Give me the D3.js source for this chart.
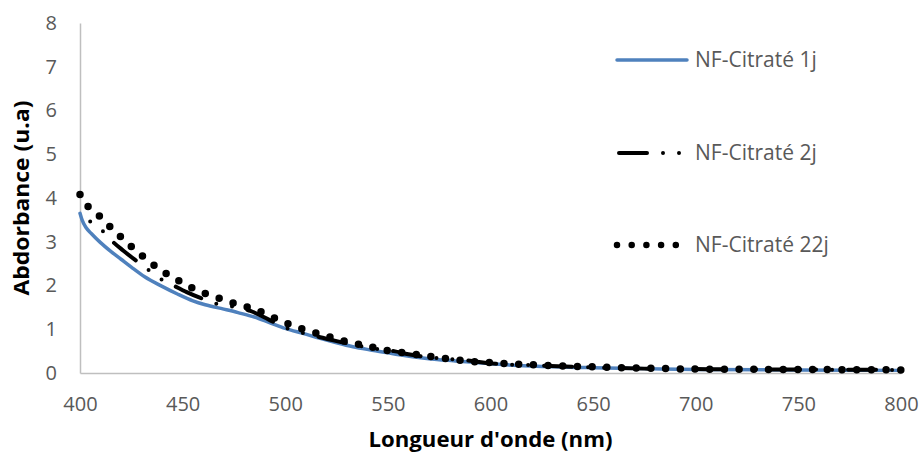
<!DOCTYPE html>
<html>
<head>
<meta charset="utf-8">
<script src="https://cdn.jsdelivr.net/npm/d3@7"></script>
<style>
  html, body { margin: 0; padding: 0; background: #fff; }
  svg { display: block; font-family: "Open Sans", "Liberation Sans", sans-serif; }
</style>
</head>
<body>
<svg id="chart" width="922" height="457"></svg>
<script>
// wavelengths (nm) and absorbance (u.a)
const wl1j = [400, 401, 403, 405.5, 410, 415, 420, 425, 431.5, 440, 447.7, 455, 461, 470, 477, 485, 492, 500,
  509, 517, 525, 533, 541, 550, 558, 566, 574, 582, 590, 600, 620, 650, 675, 700, 750, 800];
const abs1j = [3.65, 3.5, 3.32, 3.19, 2.98, 2.78, 2.6, 2.42, 2.2, 1.98, 1.8, 1.65, 1.56, 1.46, 1.38, 1.28, 1.16, 1.02,
  0.9, 0.79, 0.69, 0.6, 0.53, 0.46, 0.4, 0.35, 0.31, 0.28, 0.25, 0.21, 0.16, 0.12, 0.1, 0.08, 0.07, 0.06];

const wl2j = [400, 402, 405, 411, 416, 421, 427, 433, 439, 446, 452, 459, 466, 474, 483, 492, 501, 509, 516, 524,
  532, 542, 553, 560, 568, 578, 588, 600, 625, 650, 675, 700, 750, 800];
const abs2j = [3.7, 3.55, 3.46, 3.25, 3.0, 2.8, 2.58, 2.37, 2.16, 1.99, 1.85, 1.71, 1.59, 1.52, 1.42, 1.22, 1.02, 0.91, 0.83, 0.74,
  0.66, 0.57, 0.5, 0.43, 0.37, 0.33, 0.29, 0.22, 0.17, 0.13, 0.1, 0.09, 0.08, 0.07];

const wl22j = [400, 402, 404, 409, 413, 417.4, 422.6, 428, 433.4, 438.8, 445.3, 451.3, 457.8, 464.8, 471.3, 478, 485, 491.3,
  498, 504.4, 511.6, 518.2, 525.5, 532, 539, 546, 553, 560, 567, 575, 582, 589, 596, 610, 630, 650, 675, 700, 750, 800];
const abs22j = [4.08, 3.9, 3.8, 3.61, 3.42, 3.22, 2.99, 2.77, 2.56, 2.37, 2.18, 2.03, 1.87, 1.76, 1.65, 1.55, 1.46, 1.33,
  1.19, 1.07, 0.96, 0.87, 0.77, 0.69, 0.63, 0.55, 0.49, 0.45, 0.4, 0.35, 0.31, 0.27, 0.25, 0.21, 0.17, 0.14, 0.11, 0.09, 0.08, 0.07];

const seriesNames = ["NF-Citraté 1j", "NF-Citraté 2j", "NF-Citraté 22j"];
const xTicks = [400, 450, 500, 550, 600, 650, 700, 750, 800];
const yTicks = [0, 1, 2, 3, 4, 5, 6, 7, 8];

const svg = d3.select("#chart");
const margin = { left: 80, right: 21, top: 23, bottom: 84 };
const width = +svg.attr("width"), height = +svg.attr("height");

const x = d3.scaleLinear().domain([400, 800]).range([margin.left, width - margin.right]);
const y = d3.scaleLinear().domain([0, 8]).range([height - margin.bottom, margin.top]);

const tickColor = "#595959";
const axisColor = "#bfbfbf";

// axes
const xAxis = svg.append("g")
  .attr("transform", `translate(0,${y(0)})`)
  .call(d3.axisBottom(x).tickValues(xTicks).tickSize(0).tickPadding(24));
const yAxis = svg.append("g")
  .attr("transform", `translate(${x(400)},0)`)
  .call(d3.axisLeft(y).tickValues(yTicks).tickSize(0).tickPadding(23));

[xAxis, yAxis].forEach(g => {
  g.select(".domain").attr("stroke", axisColor).attr("stroke-width", 1.5);
  g.selectAll("text")
    .attr("fill", tickColor)
    .style("font-size", "20px")
    .style("font-family", "'Open Sans', sans-serif");
});

// series
const series = [
  { name: seriesNames[0], wl: wl1j, abs: abs1j, color: "#4f81bd", width: 3.5, dash: null, offset: 0 },
  { name: seriesNames[1], wl: wl2j, abs: abs2j, color: "#000", width: 4, dash: "28,16,0,16,0,16", offset: 29 },
  { name: seriesNames[2], wl: wl22j, abs: abs22j, color: "#000", width: 7.5, dash: "0,14.7", offset: 0 }
];

const line = d3.line()
  .x(d => x(d[0]))
  .y(d => y(d[1]))
  .curve(d3.curveMonotoneX);

svg.append("g")
  .selectAll("path")
  .data(series)
  .enter()
  .append("path")
  .attr("d", s => line(d3.zip(s.wl, s.abs)))
  .attr("fill", "none")
  .attr("stroke", s => s.color)
  .attr("stroke-width", s => s.width)
  .attr("stroke-dasharray", s => s.dash)
  .attr("stroke-dashoffset", s => s.offset)
  .attr("stroke-linecap", "round")
  .attr("stroke-linejoin", "round");

// legend
const legendY = [60, 153, 245];
const legend = svg.append("g")
  .selectAll("g")
  .data(series)
  .enter()
  .append("g")
  .attr("transform", (d, i) => `translate(617,${legendY[i]})`);

legend.append("line")
  .attr("x1", (d, i) => i === 1 ? 2 : 0)
  .attr("x2", (d, i) => i === 2 ? 62 : 70)
  .attr("stroke", d => d.color)
  .attr("stroke-width", (d, i) => i === 2 ? 6.5 : d.width)
  .attr("stroke-dasharray", d => d.dash)
  .attr("stroke-linecap", "round");

legend.append("text")
  .attr("x", 78)
  .attr("dy", "0.35em")
  .attr("fill", tickColor)
  .style("font-size", "21px")
  .text(d => d.name);

// axis titles
svg.append("text")
  .attr("x", (x(400) + x(800)) / 2)
  .attr("y", 447)
  .attr("text-anchor", "middle")
  .attr("textLength", 244)
  .attr("lengthAdjust", "spacingAndGlyphs")
  .style("font-weight", "bold")
  .style("font-size", "21px")
  .attr("fill", "#000")
  .text("Longueur d'onde (nm)");

svg.append("text")
  .attr("transform", `translate(29,${(y(0) + y(8)) / 2}) rotate(-90)`)
  .attr("text-anchor", "middle")
  .attr("textLength", 195)
  .attr("lengthAdjust", "spacingAndGlyphs")
  .style("font-weight", "bold")
  .style("font-size", "21px")
  .attr("fill", "#000")
  .text("Abdorbance (u.a)");
</script>
</body>
</html>
